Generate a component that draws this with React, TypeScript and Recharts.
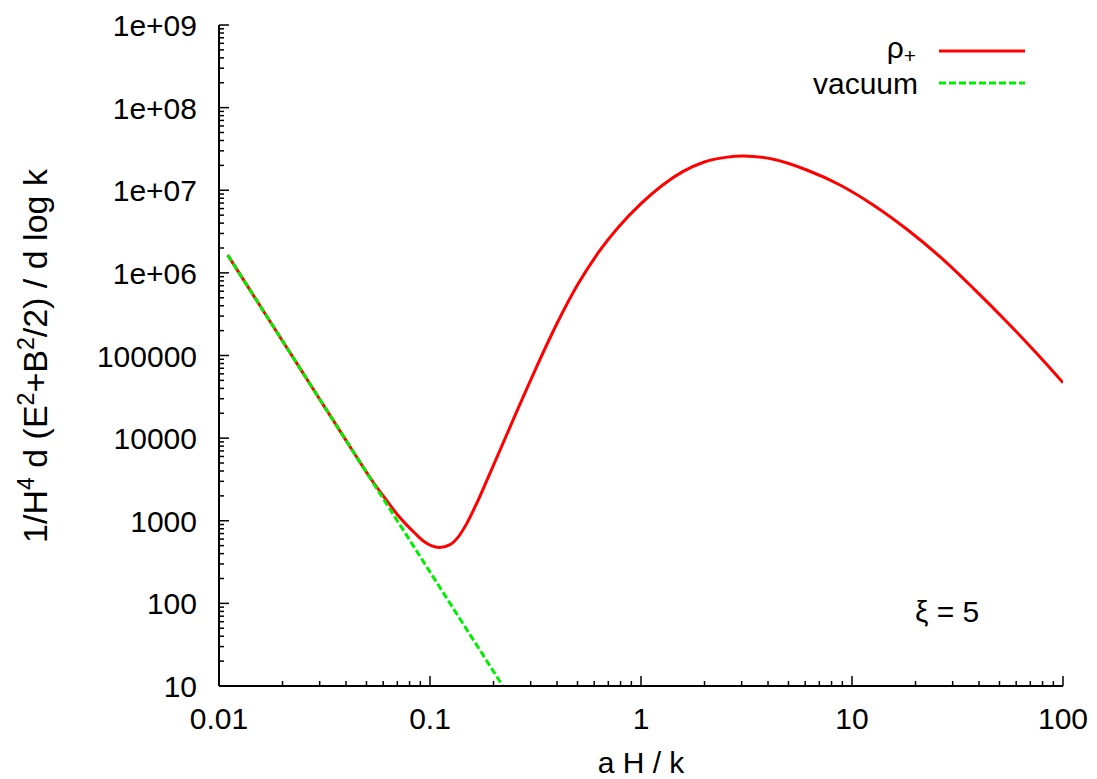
import React from 'react';
import { LineChart, Line, XAxis, YAxis } from 'recharts';

const FONT = "'Liberation Sans', Arial, Helvetica, sans-serif";

// rho_+ series (aH/k, energy density)
const rhoX = [0.011, 0.02, 0.03, 0.04, 0.045, 0.0529, 0.0612, 0.0708, 0.0849, 0.0933, 0.1019, 0.1109, 0.1245, 0.1362, 0.1492, 0.1665, 0.1923, 0.1995, 0.2512, 0.3162, 0.3981, 0.5012, 0.631, 0.7943, 1, 1.259, 1.585, 1.995, 2.512, 3.05, 4.24, 6.1, 8.77, 12.6, 18.2, 26.1, 37.6, 54.1, 77.8, 100];
const rhoY = [1.64e6, 150000, 29600, 9380, 5870, 3112, 1871, 1148, 705, 565, 497, 476, 515, 638, 923, 1626, 3750, 4634, 18110, 68080, 238800, 721100, 1.79e6, 3.74e6, 6.89e6, 1.143e7, 1.69e7, 2.2e7, 2.5e7, 2.6e7, 2.37e7, 1.758e7, 1.159e7, 6.64e6, 3.37e6, 1.57e6, 650000, 256500, 95900, 46900];

// vacuum series
const vacX = [0.011, 0.02, 0.05, 0.1, 0.2, 0.2213];
const vacY = [1.64e6, 150000, 3840, 240, 15, 10];

// ticks
const xMajor = [0.01, 0.1, 1, 10, 100];
const xTickLabels = ['0.01', '0.1', '1', '10', '100'];
const yMajor = [10, 100, 1000, 10000, 100000, 1e6, 1e7, 1e8, 1e9];
const yTickLabels = ['10', '100', '1000', '10000', '100000', '1e+06', '1e+07', '1e+08', '1e+09'];
const minorMult = [2, 3, 4, 5, 6, 7, 8, 9];

const xTicks = [...xMajor, ...xMajor.slice(0, -1).flatMap((d) => minorMult.map((m) => d * m))];
const yTicks = [...yMajor, ...yMajor.slice(0, -1).flatMap((d) => minorMult.map((m) => d * m))];

const rhoData = rhoX.map((x, i) => ({ x, y: rhoY[i] }));
const vacData = vacX.map((x, i) => ({ x, y: vacY[i] }));

// layout
const W = 1097;
const H = 779;
const M_TOP = 25;
const M_RIGHT = 34;
const X_AXIS_H = 93;
const Y_AXIS_W = 219;
const PL = Y_AXIS_W;
const PR = W - M_RIGHT;
const PT = M_TOP;
const PB = H - X_AXIS_H;

const MAJOR = 10;
const MINOR = 5;
const TW = 1.5;
const RED = '#ff0000';
const GREEN = '#00ee00';

const BottomTick = (props: any) => {
  const { x, payload } = props;
  const idx = xMajor.indexOf(payload.value);
  const len = idx >= 0 ? MAJOR : MINOR;
  return (
    <g>
      <line x1={x} y1={PB} x2={x} y2={PB - len} stroke="#000" strokeWidth={TW} />
      {idx >= 0 && (
        <text x={x} y={PB + 43} textAnchor="middle" fontSize={30} fontFamily={FONT} fill="#000">
          {xTickLabels[idx]}
        </text>
      )}
    </g>
  );
};

const TopTick = (props: any) => {
  const { x, payload } = props;
  const idx = xMajor.indexOf(payload.value);
  const len = idx >= 0 ? MAJOR : MINOR;
  return <line x1={x} y1={PT} x2={x} y2={PT + len} stroke="#000" strokeWidth={TW} />;
};

const LeftTick = (props: any) => {
  const { y, payload } = props;
  const idx = yMajor.indexOf(payload.value);
  const len = idx >= 0 ? MAJOR : MINOR;
  return (
    <g>
      <line x1={PL} y1={y} x2={PL + len} y2={y} stroke="#000" strokeWidth={TW} />
      {idx >= 0 && (
        <text x={PL - 22} y={y + 11} textAnchor="end" fontSize={30} fontFamily={FONT} fill="#000">
          {yTickLabels[idx]}
        </text>
      )}
    </g>
  );
};

const RightTick = (props: any) => {
  const { y, payload } = props;
  const idx = yMajor.indexOf(payload.value);
  const len = idx >= 0 ? MAJOR : MINOR;
  return <line x1={PR} y1={y} x2={PR - len} y2={y} stroke="#000" strokeWidth={TW} />;
};

const axisLine = { stroke: '#000', strokeWidth: 2 };

export default function App() {
  return (
    <div style={{ position: 'absolute', left: 0, top: 0, width: W, height: H, background: '#fff' }}>
      <LineChart width={W} height={H} margin={{ top: M_TOP, right: M_RIGHT, bottom: 0, left: 0 }}>
        <XAxis
          xAxisId="b"
          dataKey="x"
          type="number"
          scale="log"
          domain={[0.01, 100]}
          allowDataOverflow
          ticks={xTicks}
          interval={0}
          tickSize={0}
          tickMargin={0}
          tickLine={false}
          axisLine={axisLine}
          tick={<BottomTick />}
          height={X_AXIS_H}
          orientation="bottom"
        />
        <XAxis
          xAxisId="t"
          dataKey="x"
          type="number"
          scale="log"
          domain={[0.01, 100]}
          allowDataOverflow
          ticks={xTicks}
          interval={0}
          tickSize={0}
          tickMargin={0}
          tickLine={false}
          axisLine={axisLine}
          tick={<TopTick />}
          height={0}
          orientation="top"
        />
        <YAxis
          yAxisId="l"
          type="number"
          scale="log"
          domain={[10, 1e9]}
          allowDataOverflow
          ticks={yTicks}
          interval={0}
          tickSize={0}
          tickMargin={0}
          tickLine={false}
          axisLine={axisLine}
          tick={<LeftTick />}
          width={Y_AXIS_W}
          orientation="left"
        />
        <YAxis
          yAxisId="r"
          type="number"
          scale="log"
          domain={[10, 1e9]}
          allowDataOverflow
          ticks={yTicks}
          interval={0}
          tickSize={0}
          tickMargin={0}
          tickLine={false}
          axisLine={axisLine}
          tick={<RightTick />}
          width={0}
          orientation="right"
        />
        <Line
          data={rhoData}
          dataKey="y"
          xAxisId="b"
          yAxisId="l"
          type="monotone"
          stroke={RED}
          strokeWidth={3}
          dot={false}
          activeDot={false}
          isAnimationActive={false}
        />
        <Line
          data={vacData}
          dataKey="y"
          xAxisId="b"
          yAxisId="l"
          type="linear"
          stroke={GREEN}
          strokeWidth={3}
          strokeDasharray="7 3"
          dot={false}
          activeDot={false}
          isAnimationActive={false}
        />
      </LineChart>
      <svg
        width={W}
        height={H}
        style={{ position: 'absolute', left: 0, top: 0, pointerEvents: 'none' }}
        fontFamily={FONT}
      >
        {/* legend */}
        <text x={916} y={58} textAnchor="end" fontSize={30} fill="#000">
          ρ<tspan dy={5} fontSize={21}>+</tspan>
        </text>
        <line x1={939} y1={51} x2={1025} y2={51} stroke={RED} strokeWidth={3} />
        <text x={918} y={94} textAnchor="end" fontSize={30} fill="#000">vacuum</text>
        <line x1={939} y1={83} x2={1025} y2={83} stroke={GREEN} strokeWidth={3} strokeDasharray="7 3" />
        {/* annotation */}
        <text x={915} y={622} fontSize={30} fill="#000">ξ = 5</text>
        {/* axis titles */}
        <text x={641} y={773} textAnchor="middle" fontSize={30} fill="#000">a H / k</text>
        <text transform="translate(47, 356) rotate(-90)" textAnchor="middle" fontSize={34} fill="#000">
          1/H<tspan dy={-13} fontSize={23}>4</tspan>
          <tspan dy={13}> d (E</tspan>
          <tspan dy={-13} fontSize={23}>2</tspan>
          <tspan dy={13}>+B</tspan>
          <tspan dy={-13} fontSize={23}>2</tspan>
          <tspan dy={13}>/2) / d log k</tspan>
        </text>
      </svg>
    </div>
  );
}
